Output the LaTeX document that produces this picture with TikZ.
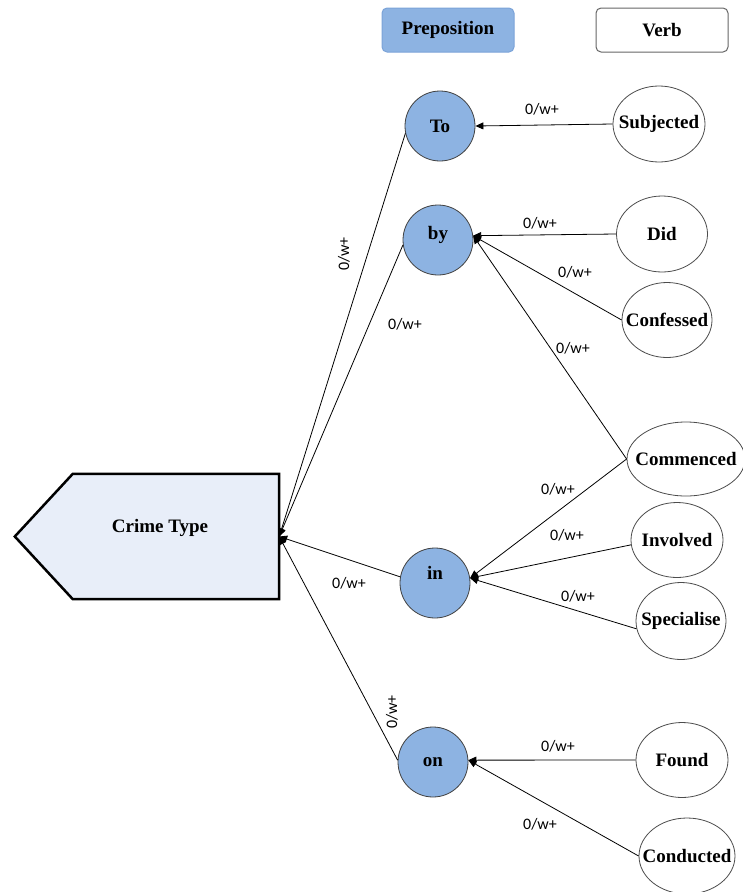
\documentclass[tikz,border=0pt]{standalone}
\usepackage{fontspec}
\setmainfont{Liberation Serif}
\newfontfamily\labelfont{Carlito}
\usetikzlibrary{arrows.meta,shapes.geometric,backgrounds}
\definecolor{prepfill}{HTML}{8DB3E2}
\definecolor{prepedge}{HTML}{7BA3D8}
\definecolor{crimefill}{HTML}{E8EEF9}
% zero-width text so the ellipse size is set by its minimum size alone
\newcommand{\vtext}[1]{\makebox[0pt][c]{#1}}
\begin{document}
\begin{tikzpicture}[x=1pt,y=-1pt,
  nodetext/.style={font=\bfseries\fontsize{19}{22}\selectfont},
  prep/.style={circle, draw=black!75, line width=0.8pt, fill=prepfill,
    minimum size=70pt, inner sep=0pt, nodetext},
  verb/.style={ellipse, draw=black!70, line width=0.8pt, fill=white,
    inner sep=0pt, nodetext},
  legendbox/.style={rounded corners=5pt, minimum width=132pt,
    minimum height=44pt, line width=1pt, nodetext},
  edge/.style={draw=black, line width=0.8pt,
    -{Triangle[length=8pt,width=7pt]}},
  lbl/.style={font=\labelfont\fontsize{16}{18}\selectfont, inner sep=0pt}]

\useasboundingbox (0,0) rectangle (742,892);

% legend
\node[legendbox, draw=prepedge, fill=prepfill] (legprep) at (448,30) {Preposition};
\node[legendbox, draw=black!60, fill=white] (legverb) at (662,30) {Verb};

% crime type pentagon
\node[minimum width=206pt, minimum height=125pt, inner sep=0pt] (ct) at (176,536.5) {};
\begin{scope}[on background layer]
  \draw[line width=2.5pt, fill=crimefill, line join=miter]
    (ct.north west) -- (ct.north east) -- (ct.south east) -- (ct.south west)
    -- ([xshift=-58pt]ct.west) -- cycle;
\end{scope}
\node[nodetext] (cttext) at (160,528) {Crime Type};

% prepositions
\node[prep] (to) at (440,126) {To};
\node[prep] (by) at (438,240) {\raisebox{1pt}[0pt][0pt]{by}};
\node[prep] (in) at (435,583) {\raisebox{3.5pt}[0pt][0pt]{in}};
\node[prep] (on) at (433,762) {on};

% verbs
\node[verb, minimum width=92pt, minimum height=76pt] (sub)  at (659,124) {\vtext{Subjected}};
\node[verb, minimum width=91pt, minimum height=76pt] (did)  at (662,234) {\vtext{Did}};
\node[verb, minimum width=90pt, minimum height=75pt] (conf) at (667,320) {\vtext{Confessed}};
\node[verb, minimum width=118pt, minimum height=74pt] (comm) at (686,459) {\vtext{Commenced}};
\node[verb, minimum width=92pt, minimum height=75pt] (inv)  at (677,540) {\vtext{Involved}};
\node[verb, minimum width=90pt, minimum height=77pt] (spec) at (681,621) {\vtext{Specialise}};
\node[verb, minimum width=92pt, minimum height=75pt] (found) at (682,760) {\vtext{Found}};
\node[verb, minimum width=96pt, minimum height=76pt] (cond) at (687,856) {\vtext{Conducted}};

% verb -> preposition
\draw[edge] (sub.west) -- (to.east);
\draw[edge] (did.west) -- (by.7);
\draw[edge] (conf.west) -- (by.7);
\draw[edge] (comm.west) -- (by.7);
\draw[edge] (comm.west) -- (in.8);
\draw[edge] (inv.186) -- (in.8);
\draw[edge] (spec.190) -- (in.8);
\draw[edge] (found.west) -- (on.3);
\draw[edge] (cond.west) -- (on.3);

% preposition -> crime type
\draw[edge] (to.192) -- (ct.east);
\draw[edge] (by.188) -- (ct.east);
\draw[edge] (in.170) -- (ct.east);
\draw[edge] (on.177) -- (ct.east);

% edge labels
\node[lbl] (lsub)  at (542,109) {0/w+};
\node[lbl] (ldid)  at (540,223) {0/w+};
\node[lbl] (lconf) at (575,272) {0/w+};
\node[lbl] (lcomb) at (573,348) {0/w+};
\node[lbl] (lcomi) at (558,489) {0/w+};
\node[lbl] (linv)  at (567,535) {0/w+};
\node[lbl] (lspec) at (578,596) {0/w+};
\node[lbl] (lfound) at (558,746) {0/w+};
\node[lbl] (lcond) at (540,824) {0/w+};
\node[lbl, rotate=90] (lto) at (344,254) {0/w+};
\node[lbl] (lby) at (405,324) {0/w+};
\node[lbl] (lin) at (349,583) {0/w+};
\node[lbl, rotate=90] (lon) at (392,712) {0/w+};
\end{tikzpicture}
\end{document}
